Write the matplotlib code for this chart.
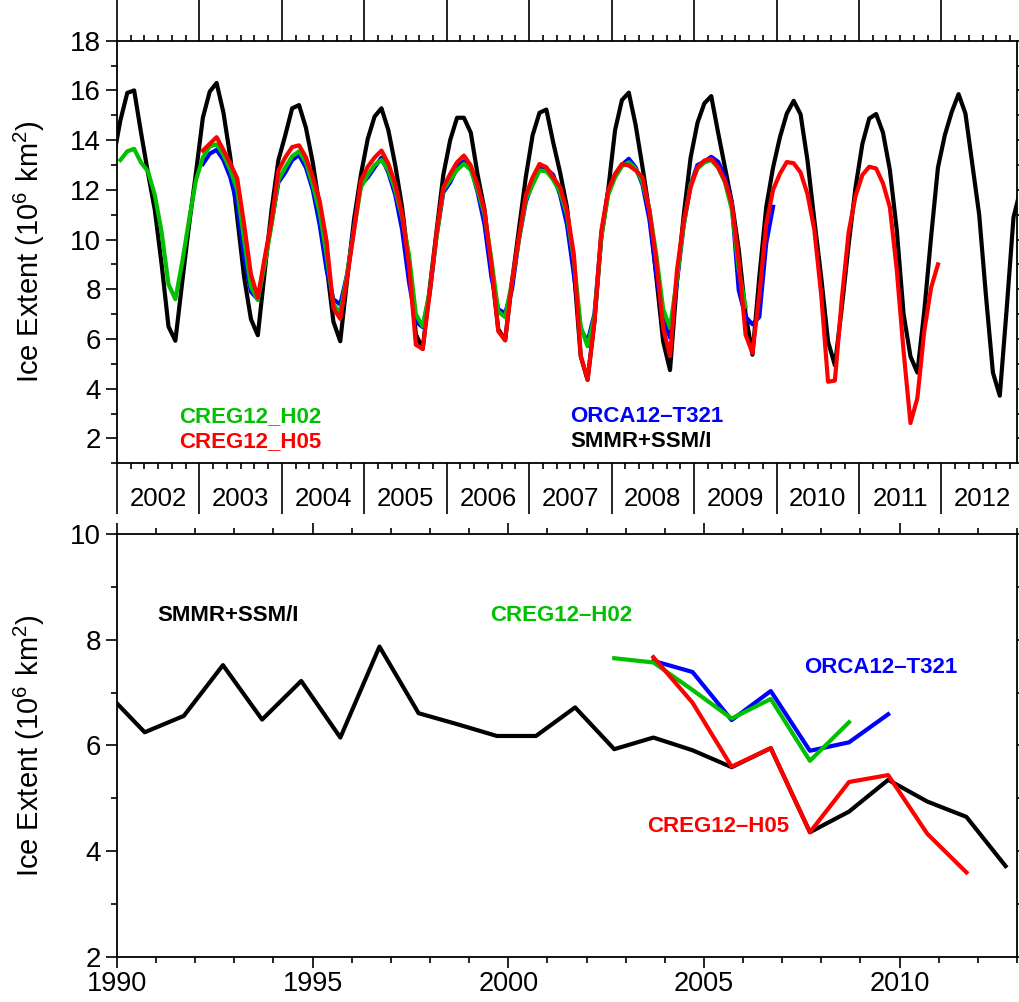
import numpy as np
import matplotlib
matplotlib.use('Agg')
import matplotlib.pyplot as plt
from matplotlib.ticker import MultipleLocator

plt.rcParams['font.family'] = 'Liberation Sans'

# ---- monthly Arctic ice extent (10^6 km^2) ----
# observations, Dec 2001 .. Dec 2012
obs_monthly = [13.3,
               14.8, 15.9, 16.0, 14.3, 12.7, 11.2, 9.0, 6.5, 5.93, 8.3, 10.6, 12.7,
               14.9, 15.95, 16.3, 15.1, 13.3, 10.9, 8.5, 6.8, 6.15, 8.7, 11.2, 13.2,
               14.2, 15.28, 15.41, 14.5, 13.1, 11.3, 9.0, 6.7, 5.91, 8.4, 10.8, 12.6,
               14.05, 14.95, 15.28, 14.4, 13.0, 11.3, 9.0, 6.2, 5.6, 8.0, 10.3, 12.6,
               14.0, 14.9, 14.9, 14.3, 12.6, 11.2, 8.8, 6.4, 5.95, 8.3, 10.4, 12.5,
               14.2, 15.1, 15.23, 13.9, 12.7, 11.3, 8.8, 5.3, 4.36, 6.7, 10.1, 12.0,
               14.4, 15.61, 15.91, 14.6, 12.9, 11.1, 8.5, 5.9, 4.75, 8.3, 11.0, 13.3,
               14.7, 15.48, 15.77, 14.3, 12.9, 11.5, 9.6, 7.0, 5.37, 8.5, 11.3, 12.9,
               14.12, 15.07, 15.58, 15.04, 13.2, 10.8, 8.5, 5.9, 4.94, 7.25, 9.8, 12.1,
               13.85, 14.87, 15.05, 14.3, 12.8, 10.4, 7.0, 5.3, 4.65, 7.1, 10.1, 12.9,
               14.2, 15.13, 15.85, 15.07, 13.05, 11.0, 7.7, 4.65, 3.72, 7.2, 10.9, 12.0]
obs_start = (2001, 12)

# CREG12-H02, Jan 2002 .. Aug 2009
h02_monthly = [13.2, 13.55, 13.65, 13.1, 12.75, 11.8, 10.3, 8.2, 7.6, 9.1, 10.8, 12.4,
               13.3, 13.75, 13.83, 13.4, 12.8, 12.0, 10.0, 8.1, 7.57, 9.0, 10.6, 12.4,
               12.9, 13.35, 13.55, 13.1, 12.2, 11.1, 9.4, 7.4, 7.05, 8.6, 10.4, 12.1,
               12.6, 13.0, 13.2, 12.8, 12.0, 10.9, 9.4, 7.0, 6.51, 7.9, 10.1, 12.0,
               12.4, 12.8, 13.05, 12.8, 12.0, 11.0, 9.2, 7.1, 6.88, 8.3, 10.0, 11.6,
               12.2, 12.78, 12.75, 12.4, 11.9, 11.0, 9.2, 6.5, 5.71, 6.9, 10.1, 11.8,
               12.5, 12.95, 13.11, 12.85, 12.3, 11.2, 9.4, 7.2, 6.44, 8.4, 10.6, 12.2,
               12.85, 13.1, 13.2, 12.9, 12.3, 11.2, 8.8, 7.3]
h02_start = (2002, 1)

# ORCA12-T321, Jan 2003 .. Dec 2009
t321_monthly = [13.04, 13.45, 13.61, 13.2, 12.5, 11.4, 9.3, 7.9, 7.6, 9.1, 10.7, 12.3,
                12.7, 13.2, 13.4, 12.9, 12.0, 10.6, 8.8, 7.6, 7.39, 8.6, 10.5, 12.2,
                12.5, 12.9, 13.3, 12.7, 11.8, 10.4, 8.3, 6.7, 6.48, 7.8, 10.1, 11.9,
                12.3, 12.9, 13.15, 12.9, 11.9, 10.6, 8.5, 7.2, 7.03, 8.0, 10.0, 11.5,
                12.3, 12.91, 12.85, 12.6, 11.8, 10.6, 8.6, 6.4, 5.9, 7.0, 10.2, 11.9,
                12.6, 13.0, 13.25, 12.9, 12.2, 10.8, 8.6, 6.8, 6.06, 8.3, 10.6, 12.2,
                13.0, 13.13, 13.33, 13.13, 12.52, 11.45, 7.96, 6.89, 6.59, 6.89, 9.84, 11.32]
t321_start = (2003, 1)

# CREG12-H05, Jan 2003 .. Dec 2011
h05_monthly = [13.58, 13.85, 14.12, 13.6, 13.06, 12.46, 10.62, 8.6, 7.67, 9.27, 10.76, 12.78,
               13.31, 13.72, 13.79, 13.31, 12.51, 11.56, 9.95, 7.25, 6.81, 8.47, 10.35, 12.37,
               12.93, 13.3, 13.58, 13.05, 12.24, 11.03, 9.0, 5.77, 5.6, 7.8, 10.22, 12.1,
               12.64, 13.11, 13.38, 12.98, 12.17, 11.16, 9.0, 6.31, 5.95, 8.33, 10.08, 11.77,
               12.5, 13.04, 12.91, 12.5, 12.1, 11.16, 9.41, 5.34, 4.36, 6.7, 10.35, 11.97,
               12.64, 13.04, 12.98, 12.78, 12.5, 11.16, 9.14, 6.45, 5.31, 8.74, 10.76, 12.1,
               12.91, 13.18, 13.25, 12.91, 12.37, 11.43, 9.14, 6.17, 5.44, 7.8, 10.6, 12.0,
               12.65, 13.12, 13.07, 12.7, 11.84, 10.4, 7.8, 4.28, 4.33, 7.6, 10.3, 11.75,
               12.6, 12.93, 12.86, 12.26, 11.3, 8.8, 5.5, 2.62, 3.62, 6.3, 8.06, 9.0]
h05_start = (2003, 1)

year_labels = [str(y) for y in range(2002, 2013)]

# ---- September ice extent (10^6 km^2) ----
obs_years = list(range(1989, 2013))
obs_sep = [7.02, 6.25, 6.56, 7.52, 6.49, 7.22, 6.15, 7.87, 6.61, 6.40, 6.18, 6.18,
           6.72, 5.93, 6.15, 5.91, 5.59, 5.95, 4.36, 4.75, 5.35, 4.94, 4.65, 3.72]
h02_years = list(range(2002, 2009))
h02_sep = [7.65, 7.57, 7.05, 6.51, 6.88, 5.71, 6.44]
t321_years = list(range(2003, 2010))
t321_sep = [7.60, 7.39, 6.48, 7.03, 5.90, 6.06, 6.59]
h05_years = list(range(2003, 2012))
h05_sep = [7.67, 6.81, 5.60, 5.95, 4.36, 5.31, 5.44, 4.33, 3.60]

GREEN = '#00c000'
BLUE = '#0000ff'
RED = '#ff0000'
LW = 3.0


def month_axis(start, n):
    year, month = start
    return year + (month - 1 + np.arange(n) + 0.5) / 12.0


def sep_axis(years):
    return np.asarray(years) + 8.5 / 12.0


def style_axes(ax):
    for s in ax.spines.values():
        s.set_linewidth(1.3)
    ax.tick_params(which='both', direction='out', width=1.2,
                   left=True, right=True, top=True, bottom=True,
                   labelright=False, labeltop=False)
    ax.tick_params(which='major', length=8)
    ax.tick_params(which='minor', length=4.3)
    ax.tick_params(axis='y', labelsize=20)
    ax.set_ylabel(r'Ice Extent ($\mathregular{10^6\ km^2}$)', fontsize=21)
    ax.yaxis.set_label_coords(-0.078, 0.5)


fig = plt.figure(figsize=(10.19, 10.02), dpi=100)

# ---- top: monthly series ----
ax1 = fig.add_axes([0.1148, 0.5376, 0.8832, 0.4218])
ax1.plot(month_axis(obs_start, len(obs_monthly)), obs_monthly, color='black', lw=LW)
ax1.plot(month_axis(t321_start, len(t321_monthly)), t321_monthly, color=BLUE, lw=LW)
ax1.plot(month_axis(h02_start, len(h02_monthly)), h02_monthly, color=GREEN, lw=LW)
ax1.plot(month_axis(h05_start, len(h05_monthly)), h05_monthly, color=RED, lw=LW)

ax1.set_xlim(2002, 2002 + 131 / 12.0)
ax1.set_ylim(1, 18)
ax1.set_yticks(range(2, 19, 2))
ax1.yaxis.set_minor_locator(MultipleLocator(1))
ax1.set_xticks(range(2002, 2013))
ax1.xaxis.set_minor_locator(MultipleLocator(1 / 6.0))
style_axes(ax1)
ax1.tick_params(axis='x', which='major', length=37, labelbottom=False)

years_ax = ax1.secondary_xaxis('bottom')
years_ax.set_xticks([int(y) + 0.5 for y in year_labels], labels=year_labels)
years_ax.tick_params(length=0, pad=17, labelsize=18.5)
years_ax.spines['bottom'].set_visible(False)

lab = dict(fontsize=16, fontweight='bold', transform=ax1.transAxes, va='baseline')
ax1.text(0.069, 0.098, 'CREG12_H02', color=GREEN, **lab)
ax1.text(0.069, 0.039, 'CREG12_H05', color=RED, **lab)
ax1.text(0.504, 0.098, 'ORCA12\u2013T321', color=BLUE, **lab)
ax1.text(0.504, 0.039, 'SMMR+SSM/I', color='black', **lab)

# ---- bottom: September series ----
ax2 = fig.add_axes([0.1148, 0.0449, 0.8832, 0.4222])
ax2.plot(sep_axis(obs_years), obs_sep, color='black', lw=LW)
ax2.plot(sep_axis(t321_years), t321_sep, color=BLUE, lw=LW)
ax2.plot(sep_axis(h02_years), h02_sep, color=GREEN, lw=LW)
ax2.plot(sep_axis(h05_years), h05_sep, color=RED, lw=LW)

ax2.set_xlim(1990, 2013)
ax2.set_ylim(2, 10)
ax2.set_xticks(range(1990, 2011, 5))
ax2.xaxis.set_minor_locator(MultipleLocator(1))
ax2.set_yticks(range(2, 11, 2))
ax2.yaxis.set_minor_locator(MultipleLocator(1))
style_axes(ax2)
ax2.tick_params(axis='x', labelsize=19.5, pad=2)

lab = dict(fontsize=16, fontweight='bold', transform=ax2.transAxes, va='baseline')
ax2.text(0.045, 0.795, 'SMMR+SSM/I', color='black', **lab)
ax2.text(0.415, 0.795, 'CREG12\u2013H02', color=GREEN, **lab)
ax2.text(0.764, 0.671, 'ORCA12\u2013T321', color=BLUE, **lab)
ax2.text(0.589, 0.295, 'CREG12\u2013H05', color=RED, **lab)

fig.savefig('out.png', dpi=100)
